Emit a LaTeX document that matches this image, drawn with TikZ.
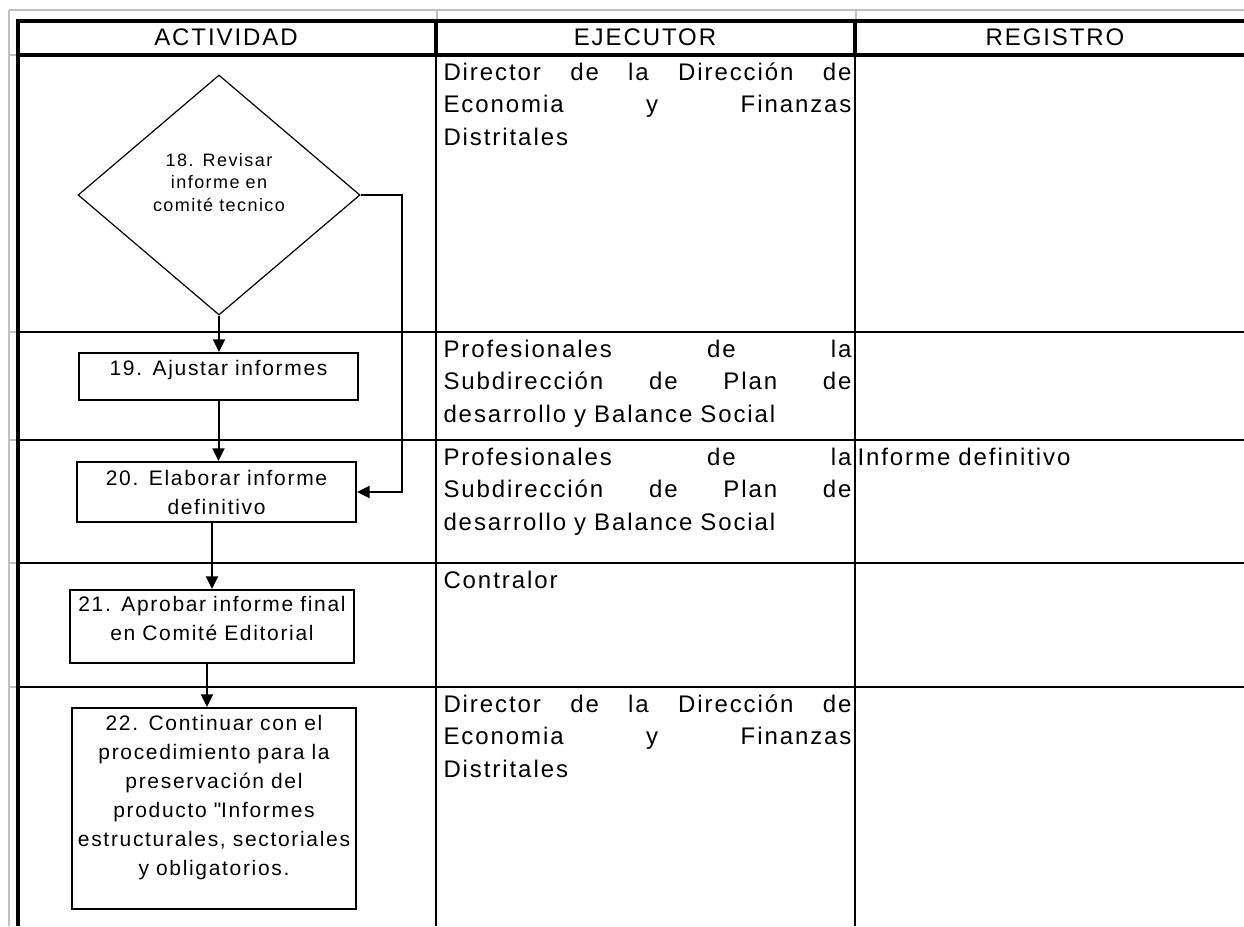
\documentclass[tikz,border=0pt]{standalone}
\usepackage{fontspec}
\setmainfont{Liberation Sans}[LetterSpace=8]
\usetikzlibrary{shapes.geometric,arrows.meta}

\definecolor{sheetgrid}{RGB}{192,192,192}
\newcommand{\exefont}{\fontsize{18pt}{24.4pt}\selectfont}
\newcommand{\boxfont}{\fontsize{15.75pt}{21.8pt}\selectfont}
\newcommand{\diafont}{\fontsize{13.5pt}{16.9pt}\selectfont}
\newcommand{\justline}[1]{\leavevmode\hbox to \linewidth{\spaceskip=.28em plus 1fil\relax #1}}

\tikzset{every picture/.style={line width=0.75pt}}
\tikzset{
  gridline/.style={draw=sheetgrid, line width=1.2pt},
  thickrule/.style={line width=3pt},
  rowrule/.style={line width=1.5pt},
  headtext/.style={inner sep=0pt, font=\exefont},
  celltext/.style={anchor=base west, inner sep=0pt, text width=306pt, align=left, font=\exefont},
  actbox/.style={draw, line width=1.5pt, inner sep=0pt, align=center, font=\boxfont, anchor=north},
  decision/.style={diamond, draw, line width=0.9pt, inner sep=0pt, align=center, font=\diafont,
    minimum width=211.5pt, minimum height=180pt, text width=110pt, text height=9.5pt, text depth=53pt},
  flow/.style={line width=1.5pt, -{Triangle[length=9.5pt,width=9pt]}}
}

\begin{document}
\begin{tikzpicture}[x=0.75pt,y=0.75pt,yscale=-1,xscale=1]
\useasboundingbox (0,0) rectangle (1244,926);

%Straight Lines: sheet grid
\draw[gridline] (9,10) -- (1244,10);
\draw[gridline] (9,10) -- (9,926);
\foreach \gx in {437,856} \draw[gridline] (\gx,10) -- (\gx,21);
\foreach \gy in {55,332,440,563,687} \draw[gridline] (9,\gy) -- (17,\gy);

%Shape: Table frame
\draw[thickrule] (1244,21) -- (17.5,21) -- (17.5,926);
\draw[thickrule] (17.5,55) -- (1244,55);
\foreach \cx in {435.5,854.5} \draw[thickrule] (\cx,21) -- (\cx,55);
\foreach \cx in {435.5,854.5} \draw[rowrule] (\cx,55) -- (\cx,926);
\foreach \ry in {332,440,563,687} \draw[rowrule] (17.5,\ry) -- (1244,\ry);

% Text Node
\node[headtext] (hact) at (226,37) {ACTIVIDAD};
% Text Node
\node[headtext] (heje) at (645,37) {EJECUTOR};
% Text Node
\node[headtext] (hreg) at (1055,37) {REGISTRO};

%Flowchart: Decision
\node[decision] (d18) at (219,195) {18. Revisar\\informe en\\comité tecnico};
%Flowchart: Process
\node[actbox, text width=209.25pt, text height=16.5pt, text depth=18.75pt] (b19) at (218.5,352) {19. Ajustar informes};
%Flowchart: Process
\node[actbox, text width=209.25pt, text height=17.25pt, text depth=27.75pt] (b20) at (216.5,461) {20. Elaborar informe\\definitivo};
%Flowchart: Process
\node[actbox, text width=213pt, text height=15.75pt, text depth=39pt] (b21) at (212,589) {21. Aprobar informe final\\en Comité Editorial};
%Flowchart: Process
\node[actbox, text width=213pt, text height=16.5pt, text depth=134.25pt] (b22) at (214,707) {22. Continuar con el\\procedimiento para la\\preservación del\\producto \textquotedbl Informes\\estructurales, sectoriales\\y obligatorios.};

%Straight Lines
\draw[flow] (d18.south) -- (d18.south |- b19.north);
\draw[flow] (b19.south) -- (b19.south |- b20.north);
\draw[flow] (b20.south -| b21.north) -- (b21.north);
\draw[flow] ([xshift=-3.75pt]b21.south) -- ([xshift=-3.75pt]b21.south |- b22.north);
\draw[flow] (d18.east) -- ++(41,0) |- (b20.east);

% Text Node
\node[celltext] (e18) at (443,80) {\justline{Director de la Dirección de}\\\justline{Economia y Finanzas}\\Distritales};
% Text Node
\node[celltext] (e19) at (443,357) {\justline{Profesionales de la}\\\justline{Subdirección de Plan de}\\desarrollo y Balance Social};
% Text Node
\node[celltext] (e20) at (443,465) {\justline{Profesionales de la}\\\justline{Subdirección de Plan de}\\desarrollo y Balance Social};
% Text Node
\node[celltext] (e21) at (443,588) {Contralor};
% Text Node
\node[celltext] (e22) at (443,712) {\justline{Director de la Dirección de}\\\justline{Economia y Finanzas}\\Distritales};
% Text Node
\node[celltext, text width=270pt] (r20) at (857,465) {Informe definitivo};

\end{tikzpicture}
\end{document}
